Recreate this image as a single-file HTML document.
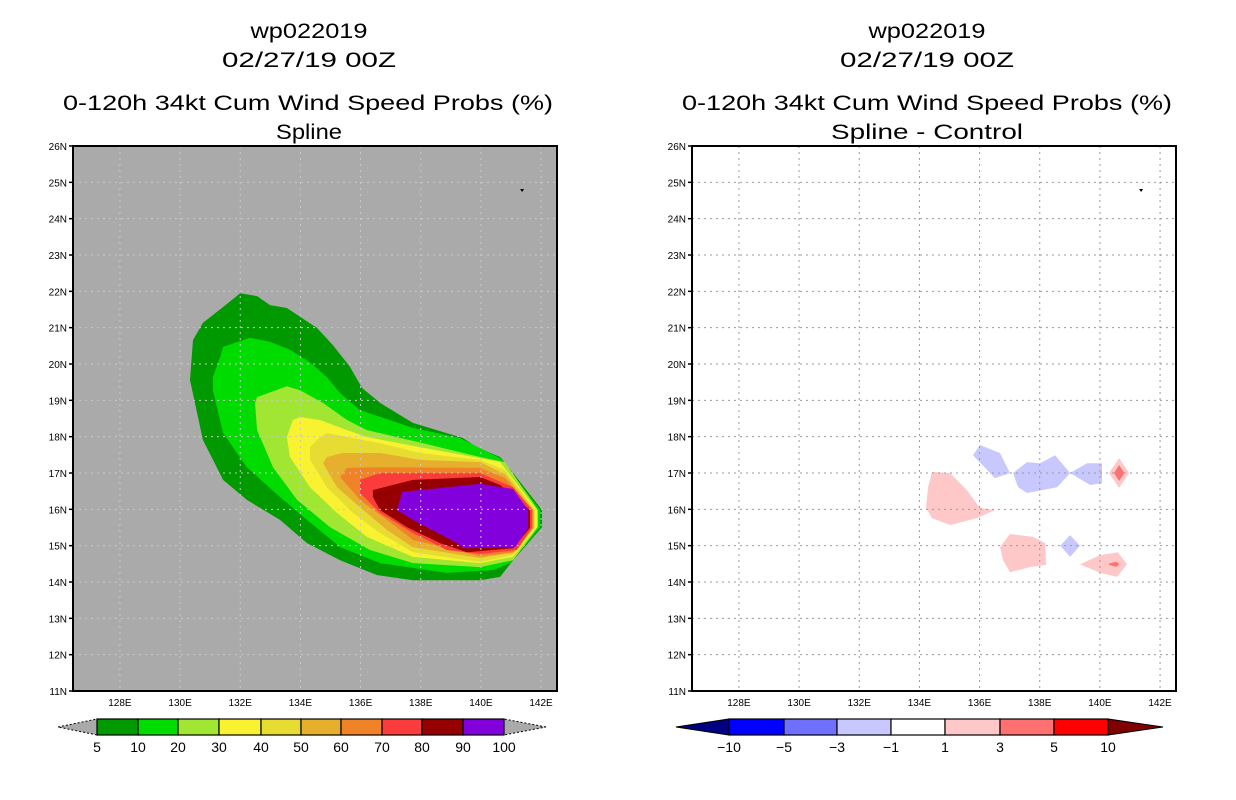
<!DOCTYPE html>
<html><head><meta charset="utf-8">
<style>
html,body{margin:0;padding:0;background:#fff;}
svg{display:block;font-family:"Liberation Sans",sans-serif;}
</style></head>
<body>
<svg id="chart" width="1236" height="800" viewBox="0 0 1236 800" xmlns="http://www.w3.org/2000/svg">
<rect width="1236" height="800" fill="#fff"/>
<g font-size="21" text-anchor="middle" fill="#000">
<text x="309" y="38" textLength="117" lengthAdjust="spacingAndGlyphs">wp022019</text>
<text x="309" y="67" textLength="174" lengthAdjust="spacingAndGlyphs">02/27/19 00Z</text>
<text x="308" y="110" textLength="490" lengthAdjust="spacingAndGlyphs">0-120h 34kt Cum Wind Speed Probs (%)</text>
<text x="309" y="139" textLength="66" lengthAdjust="spacingAndGlyphs">Spline</text>
</g>
<g font-size="21" text-anchor="middle" fill="#000">
<text x="927" y="38" textLength="117" lengthAdjust="spacingAndGlyphs">wp022019</text>
<text x="927" y="67" textLength="174" lengthAdjust="spacingAndGlyphs">02/27/19 00Z</text>
<text x="927" y="110" textLength="490" lengthAdjust="spacingAndGlyphs">0-120h 34kt Cum Wind Speed Probs (%)</text>
<text x="927" y="139" textLength="192" lengthAdjust="spacingAndGlyphs">Spline - Control</text>
</g>
<g id="left"></g>
<g id="right"></g>
<g id="cbars"></g>
</svg>
<script>
const NS="http://www.w3.org/2000/svg";
const latTicks=[26,25,24,23,22,21,20,19,18,17,16,15,14,13,12,11];
const lonTicks=[128,130,132,134,136,138,140,142];
const probLevels=[5,10,20,30,40,50,60,70,80,90];
const probColors=["#009900","#00dc00","#a0e632","#f9f231","#e6dc32","#e6af2d","#f08228","#fa3c3c","#960000","#8200dc"];
const lev5=[[132.0,21.95],[132.56,21.87],[132.99,21.62],[133.55,21.54],[134.55,20.99],[135.08,20.52],[135.65,19.92],[136.05,19.34],[136.65,18.93],[137.74,18.38],[139.41,17.96],[139.87,17.71],[140.64,17.44],[141.07,17.0],[142.03,15.98],[142.03,15.51],[141.07,14.6],[140.64,14.14],[139.97,14.05],[137.74,14.05],[136.55,14.19],[135.32,14.6],[134.22,15.07],[133.32,15.71],[132.22,16.26],[131.43,16.81],[130.76,17.91],[130.33,19.56],[130.43,20.66],[130.76,21.13],[131.43,21.57]];
const lev10=[[131.43,20.47],[132.32,20.72],[132.99,20.61],[133.65,20.39],[134.32,20.05],[134.88,19.64],[135.32,19.2],[135.98,18.73],[137.74,18.24],[139.31,17.96],[140.64,17.41],[141.97,15.98],[141.97,15.51],[140.97,14.52],[140.4,14.33],[138.87,14.25],[136.65,14.52],[135.32,14.96],[134.22,15.71],[133.32,16.34],[132.22,17.16],[131.43,18.1],[131.09,19.28],[131.09,19.64],[131.33,20.19]];
const lev20=[[132.56,19.09],[133.55,19.39],[133.99,19.28],[134.75,18.93],[135.55,18.46],[136.21,18.18],[138.08,17.82],[139.97,17.44],[140.8,17.3],[141.9,15.98],[141.9,15.51],[141.07,14.6],[139.97,14.41],[137.74,14.52],[136.31,14.88],[134.98,15.51],[133.89,16.26],[133.09,17.16],[132.56,18.18],[132.49,18.93]];
const lev30=[[133.99,18.54],[134.65,18.46],[135.55,18.18],[136.21,17.99],[137.98,17.71],[139.97,17.41],[140.64,17.3],[141.87,15.98],[141.87,15.51],[141.07,14.69],[139.97,14.52],[137.74,14.69],[136.21,15.24],[135.22,15.9],[134.32,16.61],[133.65,17.44],[133.55,17.99],[133.75,18.46]];
const lev40=[[134.88,18.1],[135.55,17.99],[136.65,17.82],[137.98,17.55],[139.97,17.36],[140.8,17.08],[141.8,15.98],[141.8,15.49],[141.07,14.74],[139.97,14.55],[137.74,14.82],[136.65,15.35],[135.75,15.9],[134.88,16.61],[134.32,17.36],[134.32,17.71],[134.55,17.91]];
const lev50=[[135.42,17.55],[136.65,17.55],[137.98,17.36],[139.97,17.3],[140.8,16.97],[141.76,15.98],[141.76,15.49],[141.07,14.8],[139.97,14.66],[137.74,14.96],[136.88,15.43],[135.98,16.06],[135.22,16.61],[134.75,17.27],[134.88,17.44]];
const lev60=[[135.55,17.14],[136.65,17.16],[139.97,17.14],[140.8,16.86],[141.73,15.98],[141.73,15.49],[141.07,14.82],[139.97,14.71],[137.74,15.16],[136.88,15.71],[135.98,16.26],[135.32,16.89]];
const lev70=[[135.98,16.81],[136.65,17.0],[139.97,17.0],[141.07,16.61],[141.7,15.98],[141.7,15.49],[141.2,14.88],[139.97,14.77],[138.87,14.88],[137.74,15.35],[136.65,15.9],[135.98,16.45]];
const lev80=[[136.41,16.53],[137.74,16.81],[139.97,16.89],[140.64,16.67],[141.63,15.98],[141.63,15.49],[141.07,14.93],[139.54,14.82],[138.64,15.07],[137.54,15.51],[136.65,15.98],[136.41,16.34]];
const lev90=[[137.38,16.48],[139.97,16.7],[141.07,16.56],[141.57,15.98],[141.57,15.49],[141.14,14.96],[139.41,14.93],[139.21,15.07],[137.74,15.71],[137.21,15.98]];
const probPolys=[lev5,lev10,lev20,lev30,lev40,lev50,lev60,lev70,lev80,lev90];
const diffLevels=[-10,-5,-3,-1,1,3,5,10];
const diffColors=["#000080","#0000ff","#7070ff","#c8c8ff","#ffffff","#ffc8c8","#ff7070","#ff0000","#800000"];
const negBlob1=[[136.01,17.77],[136.68,17.55],[137.01,17.0],[136.51,16.86],[135.78,17.49]];
const negBlob2=[[137.11,17.0],[137.58,17.3],[138.01,17.27],[138.51,17.49],[139.01,17.0],[139.57,17.27],[140.07,17.27],[140.07,16.72],[139.67,16.67],[139.01,17.0],[138.58,16.61],[137.58,16.45],[137.28,16.61]];
const negBlob3=[[138.68,15.0],[139.01,15.29],[139.34,15.0],[139.01,14.69]];
const posBlob1=[[134.42,17.03],[135.02,17.0],[135.58,16.53],[136.01,16.04],[136.51,15.98],[135.91,15.76],[135.02,15.57],[134.42,15.76],[134.22,16.04],[134.29,16.61]];
const posBlob2=[[137.01,15.32],[137.78,15.24],[138.18,15.07],[138.21,14.47],[137.68,14.41],[137.01,14.27],[136.78,14.6],[136.68,14.96]];
const posBlob3=[[139.34,14.49],[140.01,14.74],[140.6,14.82],[140.9,14.49],[140.57,14.14],[140.01,14.25]];
const posBlob4=[[140.3,17.0],[140.64,17.41],[140.97,17.0],[140.64,16.59]];
const hiBlob1=[[140.47,17.0],[140.64,17.22],[140.81,17.0],[140.64,16.78]];
const hiBlob2=[[140.3,14.51],[140.55,14.56],[140.64,14.49],[140.55,14.42],[140.3,14.47]];
const diffPolys=[negBlob1,negBlob2,negBlob3,posBlob1,posBlob2,posBlob3,posBlob4,hiBlob1,hiBlob2];
const diffPolyColors=[3,3,3,5,5,5,5,6,6];
const stormMarker=[141.37,24.79];

const LON0=126.44,LON1=142.53,LAT0=11,LAT1=26;
function mk(tag,attrs,parent){const e=document.createElementNS(NS,tag);for(const k in attrs)e.setAttribute(k,attrs[k]);parent.appendChild(e);return e;}
function panel(g,ox,bg,polys,colors,names){
  const X0=ox,X1=ox+484,Y0=146,Y1=691;
  const x=lon=>X0+(lon-LON0)/(LON1-LON0)*(X1-X0);
  const y=lat=>Y0+(LAT1-lat)/(LAT1-LAT0)*(Y1-Y0);
  const bgR=mk('rect',{x:X0,y:Y0,width:X1-X0,height:Y1-Y0,fill:bg},g);
  
  
  polys.forEach((p,i)=>{
    const el=mk('polygon',{points:p.map(q=>x(q[0]).toFixed(1)+','+y(q[1]).toFixed(1)).join(' '),fill:colors[i]},g);
    
    
  });
  const gridCol=bg==='#fff'?'#9a9a9a':'#c8c8c8';
  lonTicks.forEach(l=>{
    const ln=mk('line',{x1:x(l),x2:x(l),y1:Y0,y2:Y1,stroke:gridCol,'stroke-width':1,'stroke-dasharray':'2,4'},g);
    
    
    const t=mk('text',{x:x(l),y:Y1+15,'font-size':10,'text-anchor':'middle',fill:'#000'},g);
    t.textContent=l+'E';
    
    
  });
  latTicks.forEach(l=>{
    if(l>LAT0&&l<LAT1){
      const ln=mk('line',{x1:X0,x2:X1,y1:y(l),y2:y(l),stroke:gridCol,'stroke-width':1,'stroke-dasharray':'2,4'},g);
      
      
    }
    const tk=mk('line',{x1:X0-4,x2:X0,y1:y(l),y2:y(l),stroke:'#000','stroke-width':1.5},g);
    
    
    const t=mk('text',{x:X0-6,y:y(l)+4,'font-size':10,'text-anchor':'end',fill:'#000'},g);
    t.textContent=l+'N';
    
    
  });
  const m=mk('polygon',{points:`${x(stormMarker[0])-2},${y(stormMarker[1])-1} ${x(stormMarker[0])+2},${y(stormMarker[1])-1} ${x(stormMarker[0])},${y(stormMarker[1])+2}`,fill:'#000'},g);
  
  
  const fr=mk('rect',{x:X0,y:Y0,width:X1-X0,height:Y1-Y0,fill:'none',stroke:'#000','stroke-width':2},g);
  
  
}
panel(document.getElementById('left'),73,'#aaaaaa',probPolys,probColors,probLevels.map(l=>'prob-contour-'+l));
panel(document.getElementById('right'),692,'#fff',diffPolys,diffPolyColors.map(i=>diffColors[i]),diffPolys.map((p,i)=>'diff-contour-'+i));

const cb=document.getElementById('cbars');
function colorbar(tipL,edges,tipR,cols,leftCol,rightCol,labels,dash){
  const T=719,B=735,M=727;
  const l=mk('polygon',{points:`${tipL},${M} ${edges[0]},${T} ${edges[0]},${B}`,fill:leftCol,stroke:'#000','stroke-width':1,'stroke-dasharray':dash},cb);
  
  
  const r=mk('polygon',{points:`${tipR},${M} ${edges[edges.length-1]},${T} ${edges[edges.length-1]},${B}`,fill:rightCol,stroke:'#000','stroke-width':1,'stroke-dasharray':dash},cb);
  
  
  for(let i=0;i<cols.length;i++){
    const b=mk('rect',{x:edges[i],y:T,width:edges[i+1]-edges[i],height:B-T,fill:cols[i],stroke:'#000','stroke-width':1.2},cb);
    
    
  }
  labels.forEach((s,i)=>{
    const t=mk('text',{x:edges[i],y:752,'font-size':14,'text-anchor':'middle',fill:'#000'},cb);
    t.textContent=s;
    
    
  });
}
colorbar(58,[97,138,178,219,261,301,341,382,422,463,504],546,probColors,'#aaaaaa','#aaaaaa',probLevels.concat([100]).map(String),'2,2');
colorbar(676,[729,784,837,891,945,1000,1054,1108],1163,diffColors.slice(1,8),diffColors[0],diffColors[8],diffLevels.map(v=>v<0?'\u2212'+(-v):String(v)),'none');
</script>
</body></html>
